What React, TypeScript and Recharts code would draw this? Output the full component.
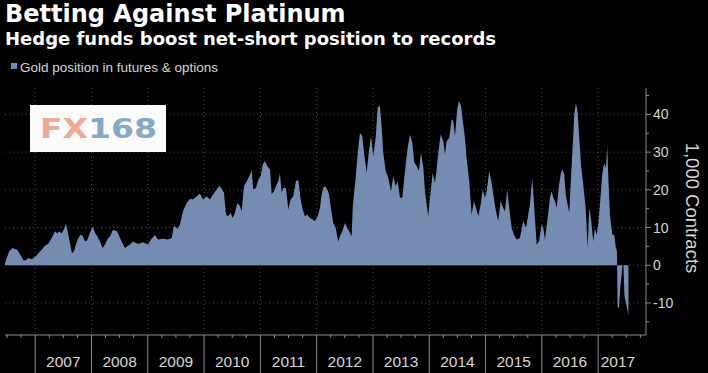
import React from 'react';
import { AreaChart, Area, XAxis, YAxis, CartesianGrid } from 'recharts';

// Weekly-ish readings, decimal years
const dates = [
  2006.464, 2006.494, 2006.540, 2006.600, 2006.641, 2006.682, 2006.718, 2006.760, 2006.789, 2006.837,
  2006.877, 2006.938, 2006.996, 2007.055, 2007.115, 2007.174, 2007.233, 2007.293, 2007.352, 2007.393,
  2007.428, 2007.471, 2007.512, 2007.547, 2007.577, 2007.618, 2007.654, 2007.689, 2007.725, 2007.766,
  2007.808, 2007.844, 2007.885, 2007.925, 2007.973, 2008.021, 2008.062, 2008.103, 2008.151, 2008.199,
  2008.240, 2008.281, 2008.329, 2008.382, 2008.453, 2008.506, 2008.595, 2008.684, 2008.737, 2008.826,
  2008.915, 2009.004, 2009.057, 2009.128, 2009.181, 2009.270, 2009.359, 2009.425, 2009.465, 2009.531,
  2009.572, 2009.625, 2009.691, 2009.750, 2009.803, 2009.869, 2009.927, 2009.981, 2010.046, 2010.105,
  2010.163, 2010.224, 2010.270, 2010.313, 2010.354, 2010.389, 2010.430, 2010.473, 2010.508, 2010.549,
  2010.590, 2010.638, 2010.668, 2010.709, 2010.757, 2010.803, 2010.845, 2010.874, 2010.922, 2010.963,
  2011.005, 2011.041, 2011.082, 2011.123, 2011.171, 2011.201, 2011.242, 2011.277, 2011.318, 2011.348,
  2011.378, 2011.407, 2011.455, 2011.496, 2011.538, 2011.584, 2011.632, 2011.673, 2011.716, 2011.751,
  2011.792, 2011.833, 2011.881, 2011.929, 2011.970, 2012.018, 2012.059, 2012.089, 2012.117, 2012.148,
  2012.188, 2012.219, 2012.254, 2012.295, 2012.338, 2012.384, 2012.414, 2012.455, 2012.503, 2012.544,
  2012.579, 2012.622, 2012.640, 2012.668, 2012.693, 2012.728, 2012.769, 2012.810, 2012.846, 2012.888,
  2012.929, 2012.965, 2013.005, 2013.048, 2013.084, 2013.124, 2013.155, 2013.183, 2013.226, 2013.272,
  2013.320, 2013.361, 2013.403, 2013.439, 2013.480, 2013.521, 2013.569, 2013.617, 2013.657, 2013.698,
  2013.734, 2013.776, 2013.817, 2013.853, 2013.894, 2013.924, 2013.965, 2013.982, 2014.013, 2014.061,
  2014.101, 2014.131, 2014.160, 2014.203, 2014.249, 2014.279, 2014.309, 2014.355, 2014.398, 2014.426,
  2014.457, 2014.497, 2014.528, 2014.563, 2014.593, 2014.634, 2014.664, 2014.711, 2014.735, 2014.753,
  2014.794, 2014.830, 2014.870, 2014.913, 2014.949, 2014.989, 2015.020, 2015.066, 2015.108, 2015.137,
  2015.185, 2015.226, 2015.268, 2015.314, 2015.345, 2015.385, 2015.421, 2015.464, 2015.504, 2015.552,
  2015.611, 2015.670, 2015.718, 2015.758, 2015.789, 2015.830, 2015.865, 2015.908, 2015.949, 2015.996,
  2016.025, 2016.055, 2016.103, 2016.144, 2016.174, 2016.203, 2016.233, 2016.263, 2016.304, 2016.339,
  2016.362, 2016.398, 2016.423, 2016.458, 2016.487, 2016.517, 2016.547, 2016.576, 2016.606, 2016.636,
  2016.664, 2016.695, 2016.735, 2016.778, 2016.814, 2016.842, 2016.872, 2016.913, 2016.943, 2016.973,
  2017.002, 2017.032, 2017.073, 2017.108, 2017.139, 2017.162, 2017.179, 2017.210, 2017.251, 2017.286,
  2017.311, 2017.334, 2017.346, 2017.370, 2017.393, 2017.414, 2017.432, 2017.449, 2017.467, 2017.494,
  2017.521, 2017.538,
];

// Net position, thousands of contracts
const values = [
  0.5, 1.9, 3.7, 4.6, 4.3, 4.1, 3.2, 2.2, 1.3, 1.3,
  1.9, 1.6, 2.2, 3.1, 4.1, 5.2, 5.7, 7.2, 9.0, 8.4,
  9.0, 8.4, 9.6, 11.0, 9.0, 5.9, 3.2, 3.7, 5.5, 7.2,
  8.1, 7.8, 6.3, 6.6, 8.6, 10.2, 8.6, 7.7, 6.3, 4.6,
  5.5, 6.8, 7.7, 9.4, 9.0, 7.2, 4.6, 5.5, 6.3, 5.6,
  6.1, 5.5, 6.8, 8.0, 6.8, 7.0, 6.8, 7.2, 10.5, 9.6,
  10.8, 14.3, 16.5, 17.6, 17.4, 18.3, 19.0, 17.4, 18.3, 17.4,
  18.8, 20.1, 21.1, 20.3, 19.2, 13.4, 13.0, 13.9, 12.5, 13.9,
  16.5, 15.7, 14.3, 21.0, 22.3, 23.6, 25.2, 20.1, 20.5, 22.7,
  23.6, 26.7, 27.6, 26.3, 25.4, 18.8, 19.6, 21.0, 22.3, 24.3,
  19.2, 20.5, 20.5, 14.8, 17.4, 18.3, 22.3, 22.7, 17.4, 14.8,
  13.0, 13.4, 12.5, 12.1, 11.7, 13.0, 15.2, 18.8, 20.5, 21.0,
  20.1, 18.8, 15.2, 11.2, 9.9, 6.3, 7.7, 9.0, 11.2, 9.9,
  9.0, 7.7, 15.2, 19.6, 23.2, 29.4, 35.1, 34.3, 29.4, 24.5,
  30.3, 34.3, 28.9, 33.8, 41.8, 42.2, 36.5, 29.8, 25.0, 23.2,
  19.6, 23.6, 21.0, 22.3, 17.9, 17.9, 25.0, 31.2, 34.7, 32.5,
  27.2, 26.3, 25.0, 29.8, 26.0, 19.6, 14.8, 13.0, 17.9, 24.5,
  21.8, 25.4, 29.8, 34.7, 32.9, 29.4, 32.9, 33.8, 38.7, 38.3,
  34.3, 41.4, 43.6, 42.2, 38.7, 33.8, 28.1, 22.3, 17.0, 13.4,
  17.0, 15.2, 13.0, 16.1, 20.1, 17.9, 19.6, 25.0, 21.8, 18.8,
  14.3, 11.7, 17.0, 15.2, 14.3, 20.1, 15.2, 9.9, 8.1, 6.8,
  7.2, 11.7, 9.9, 13.4, 16.1, 23.2, 15.2, 5.5, 6.3, 10.8,
  9.9, 6.8, 12.5, 17.9, 19.6, 17.9, 17.0, 15.2, 21.0, 24.5,
  25.4, 24.1, 18.8, 16.1, 13.9, 23.2, 31.2, 40.0, 43.1, 40.5,
  33.8, 26.7, 21.4, 15.2, 4.6, 15.2, 12.5, 6.3, 9.9, 8.1,
  10.8, 16.1, 24.1, 27.2, 25.8, 31.6, 24.1, 13.4, 8.1, 8.1,
  5.0, 3.7, -11.0, -11.4, -6.0, -3.0, 0, 0, -8.0, -10.0,
  -12.0, -13.2,
];

const yearTicks = [2007, 2008, 2009, 2010, 2011, 2012, 2013, 2014, 2015, 2016, 2017];
const quarterTicks = [2006.5, 2006.75, ...yearTicks.flatMap((y) => [y, y + 0.25, y + 0.5, y + 0.75])];
const valueTicks = [-15, -10, -5, 0, 5, 10, 15, 20, 25, 30, 35, 40, 45];
const labeledValues = [-10, 0, 10, 20, 30, 40];

const title = 'Betting Against Platinum';
const subtitle = 'Hedge funds boost net-short position to records';
const legendLabel = 'Gold position in futures & options';
const axisTitle = '1,000 Contracts';

const data = dates.map((d, i) => ({ date: d, value: values[i] }));

const AREA = '#758db3';
const AXIS = '#8c8c8c';
const TXT = '#d6d6d6';
const SANS = '"Liberation Sans", Arial, sans-serif';
const BOLD = '"DejaVu Sans", Verdana, sans-serif';

const XTick = (props: any) => {
  const { x, y, payload } = props;
  const v = payload.value as number;
  const frac = v - Math.floor(v);
  const isYear = Math.abs(frac) < 1e-6;
  const isMid = Math.abs(frac - 0.5) < 1e-6;
  const yr = Math.floor(v);
  return (
    <g>
      {isYear ? (
        <line x1={x} x2={x} y1={y} y2={373} stroke={AXIS} strokeWidth={1} />
      ) : (
        <line x1={x} x2={x} y1={y} y2={y + 3} stroke={AXIS} strokeWidth={1} />
      )}
      {isMid && yr >= 2007 && (
        <text
          x={Math.min(x, 618)}
          y={367}
          textAnchor="middle"
          fill={TXT}
          fontSize={15.5}
          fontFamily={SANS}
        >
          {yr}
        </text>
      )}
    </g>
  );
};

const YTick = (props: any) => {
  const { x, y, payload } = props;
  const v = payload.value as number;
  const major = labeledValues.includes(v);
  return (
    <g>
      <line x1={x} x2={x + (major ? 5 : 3)} y1={y} y2={y} stroke={AXIS} strokeWidth={1} />
      {major && (
        <text x={x + 7} y={y} dy="0.36em" textAnchor="start" fill={TXT} fontSize={14} fontFamily={SANS}>
          {v}
        </text>
      )}
    </g>
  );
};

export default function App() {
  return (
    <div
      style={{
        position: 'fixed',
        left: 0,
        top: 0,
        width: 708,
        height: 373,
        background: '#000',
        overflow: 'hidden',
      }}
    >
      <div style={{ position: 'absolute', left: 0, top: 0 }}>
        <AreaChart width={708} height={373} data={data} margin={{ top: 88, right: 0, bottom: 0, left: 5 }}>
          <CartesianGrid
            horizontalValues={labeledValues}
            verticalValues={yearTicks}
            stroke="#4d4d4d"
            strokeDasharray="1 3"
          />
          <XAxis
            dataKey="date"
            type="number"
            domain={[2006.464, 2017.85]}
            allowDataOverflow
            ticks={quarterTicks}
            interval={0}
            tickSize={0}
            tickMargin={0}
            tickLine={false}
            height={38}
            axisLine={{ stroke: AXIS }}
            tick={<XTick />}
          />
          <YAxis
            orientation="right"
            type="number"
            domain={[-18.5, 47]}
            allowDataOverflow
            ticks={valueTicks}
            interval={0}
            tickSize={0}
            tickMargin={0}
            tickLine={false}
            width={62}
            axisLine={{ stroke: AXIS }}
            tick={<YTick />}
          />
          <Area
            type="linear"
            dataKey="value"
            baseValue={0}
            fill={AREA}
            fillOpacity={1}
            stroke="none"
            dot={false}
            activeDot={false}
            isAnimationActive={false}
          />
        </AreaChart>
      </div>
      <svg
        width={708}
        height={373}
        style={{ position: 'absolute', left: 0, top: 0, pointerEvents: 'none' }}
      >
        <text x={5} y={22} fill="#fff" fontFamily={BOLD} fontWeight="bold" fontSize={24}>
          {title}
        </text>
        <text x={5} y={45} fill="#fff" fontFamily={BOLD} fontWeight="bold" fontSize={18}>
          {subtitle}
        </text>
        <rect x={11} y={63} width={6} height={6} fill={AREA} />
        <text x={20} y={72} fill={TXT} fontFamily={SANS} fontSize={13.5}>
          {legendLabel}
        </text>
        <rect x={30} y={105} width={136} height={47} fill="#fbfbfb" />
        <text
          x={40}
          y={138}
          fontFamily={BOLD}
          fontWeight="bold"
          fontSize={26}
          textLength={117}
          lengthAdjust="spacingAndGlyphs"
        >
          <tspan fill="#eeaa93">FX</tspan>
          <tspan fill="#86a8c9">168</tspan>
        </text>
        <text
          x={692}
          y={208}
          transform="rotate(90 692 208)"
          textAnchor="middle"
          dominantBaseline="central"
          fill={TXT}
          fontFamily={SANS}
          fontSize={18.5}
        >
          {axisTitle}
        </text>
      </svg>
    </div>
  );
}
